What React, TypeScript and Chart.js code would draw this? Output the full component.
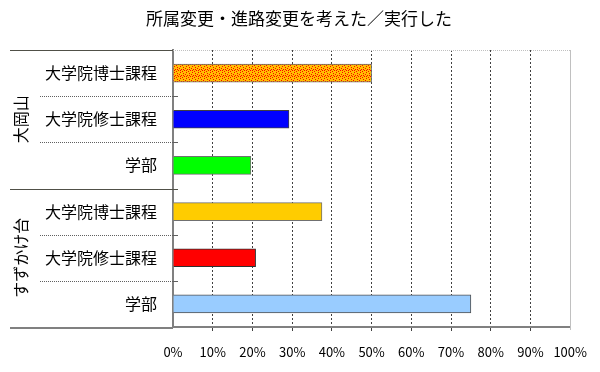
import React, { useEffect, useRef } from 'react';
import { Chart, registerables } from 'chart.js';

Chart.register(...registerables);

const title = '所属変更・進路変更を考えた／実行した';
const categories = ['大学院博士課程', '大学院修士課程', '学部', '大学院博士課程', '大学院修士課程', '学部'];
const values = [50, 29.2, 19.6, 37.5, 20.8, 75];
const groups = ['大岡山', 'すずかけ台'];
const groupSizes = [3, 3];
const barColors = ['#FFCC00', '#0000FF', '#00FF00', '#FFCC00', '#FF0000', '#99CCFF'];
const barBorders = ['#707070', '#404040', '#707070', '#707070', '#303030', '#505050'];

const FONT = "'Noto Sans CJK JP', 'Noto Sans', sans-serif";

function makeDotPattern(ctx: CanvasRenderingContext2D, base: string) {
  const tile = document.createElement('canvas');
  tile.width = 6;
  tile.height = 6;
  const t = tile.getContext('2d')!;
  t.fillStyle = base;
  t.fillRect(0, 0, 6, 6);
  t.fillStyle = '#FF0000';
  const dots = [[0, 0], [3, 1], [1, 3], [4, 4], [5, 2], [2, 5], [0, 4], [3, 3]];
  dots.forEach(([x, y]) => t.fillRect(x, y, 1, 1));
  return ctx.createPattern(tile, 'repeat') as CanvasPattern;
}

const decorPlugin = {
  id: 'decor',
  afterDraw(chart: any) {
    const { ctx, chartArea } = chart;
    const y = chart.scales.y;
    const n = categories.length;
    const { left, right, top, bottom } = chartArea;
    const bounds: number[] = [top];
    for (let i = 0; i < n - 1; i++) {
      bounds.push((y.getPixelForValue(i) + y.getPixelForValue(i + 1)) / 2);
    }
    bounds.push(bottom);
    ctx.save();
    // title
    ctx.fillStyle = '#000';
    ctx.font = `17px ${FONT}`;
    ctx.textAlign = 'center';
    ctx.textBaseline = 'middle';
    ctx.fillText(title, 299, 19);
    // right border & top border of plot
    ctx.strokeStyle = '#C0C0C0';
    ctx.lineWidth = 1;
    ctx.beginPath();
    ctx.moveTo(Math.round(right) + 0.5, top);
    ctx.lineTo(Math.round(right) + 0.5, bottom + 3);
    ctx.stroke();
    ctx.setLineDash([1, 1]);
    ctx.beginPath();
    ctx.moveTo(left, Math.round(top) + 0.5);
    ctx.lineTo(right, Math.round(top) + 0.5);
    ctx.stroke();
    ctx.setLineDash([]);
    // top and bottom lines of label box
    ctx.strokeStyle = '#505048';
    ctx.beginPath();
    ctx.moveTo(10, Math.round(top) + 0.5);
    ctx.lineTo(left, Math.round(top) + 0.5);
    ctx.stroke();
    ctx.strokeStyle = '#808080';
    ctx.lineWidth = 2;
    ctx.beginPath();
    ctx.moveTo(10, Math.round(bottom) + 1);
    ctx.lineTo(left, Math.round(bottom) + 1);
    ctx.stroke();
    ctx.lineWidth = 1;
    // separators
    let idx = 0;
    const groupEnds: number[] = [];
    groupSizes.forEach((s) => {
      idx += s;
      groupEnds.push(idx);
    });
    for (let i = 1; i < n; i++) {
      const yy = Math.round(bounds[i]) + 0.5;
      if (groupEnds.includes(i)) {
        ctx.setLineDash([]);
        ctx.strokeStyle = '#505048';
        ctx.beginPath();
        ctx.moveTo(10, yy);
        ctx.lineTo(left + 5, yy);
        ctx.stroke();
      } else {
        ctx.setLineDash([1, 1]);
        ctx.strokeStyle = '#606060';
        ctx.beginPath();
        ctx.moveTo(40, yy);
        ctx.lineTo(left, yy);
        ctx.stroke();
        ctx.setLineDash([]);
        ctx.beginPath();
        ctx.moveTo(left, yy);
        ctx.lineTo(left + 5, yy);
        ctx.stroke();
      }
    }
    // group labels (rotated)
    ctx.fillStyle = '#000';
    ctx.font = `16px ${FONT}`;
    ctx.textAlign = 'center';
    ctx.textBaseline = 'middle';
    let start = 0;
    groups.forEach((g, gi) => {
      const end = start + groupSizes[gi];
      const cy = (bounds[start] + bounds[end]) / 2;
      ctx.save();
      ctx.translate(21, cy);
      ctx.rotate(-Math.PI / 2);
      ctx.fillText(g, 0, 0);
      ctx.restore();
      start = end;
    });
    ctx.restore();
  },
};

export default function App() {
  const ref = useRef<HTMLCanvasElement>(null);
  useEffect(() => {
    const canvas = ref.current!;
    const ctx = canvas.getContext('2d')!;
    const pattern = makeDotPattern(ctx, '#FFC000');
    const bg = barColors.map((c, i) => (i === 0 ? pattern : c));
    Chart.defaults.font.family = FONT;
    const chart = new Chart(canvas, {
      type: 'bar',
      data: {
        labels: categories,
        datasets: [
          {
            data: values,
            backgroundColor: bg as any,
            borderColor: barBorders,
            borderWidth: 1,
            barThickness: 18,
          },
        ],
      },
      options: {
        indexAxis: 'y',
        responsive: false,
        animation: false,
        layout: { padding: { left: 0, right: 29, top: 50, bottom: 0 } },
        plugins: {
          legend: { display: false },
          tooltip: { enabled: false },
          title: { display: false },
        },
        scales: {
          x: {
            min: 0,
            max: 100,
            ticks: {
              stepSize: 10,
              color: '#000',
              font: { size: 13, family: FONT },
              padding: 13,
              callback: (v: any) => `${v}%`,
            },
            grid: {
              color: (c: any) => (c.tick && (c.tick.value === 0 || c.tick.value === 100) ? 'rgba(0,0,0,0)' : '#404040'),
              lineWidth: 1,
              drawTicks: true,
              tickLength: 4,
            },
            border: { display: true, color: '#808080', width: 2, dash: [2, 2] },
            afterFit: (s: any) => {
              s.height = 45;
            },
          },
          y: {
            ticks: {
              color: '#000',
              font: { size: 16, family: FONT },
              padding: 16,
            },
            grid: { display: false, drawTicks: false },
            border: { display: true, color: '#808080', width: 2 },
            afterFit: (s: any) => {
              s.width = 173;
            },
          },
        },
      },
      plugins: [decorPlugin],
    });
    return () => chart.destroy();
  }, []);
  return (
    <div style={{ position: 'absolute', left: 0, top: 0, width: 600, height: 372, background: '#fff' }}>
      <canvas ref={ref} width={600} height={372} />
    </div>
  );
}
